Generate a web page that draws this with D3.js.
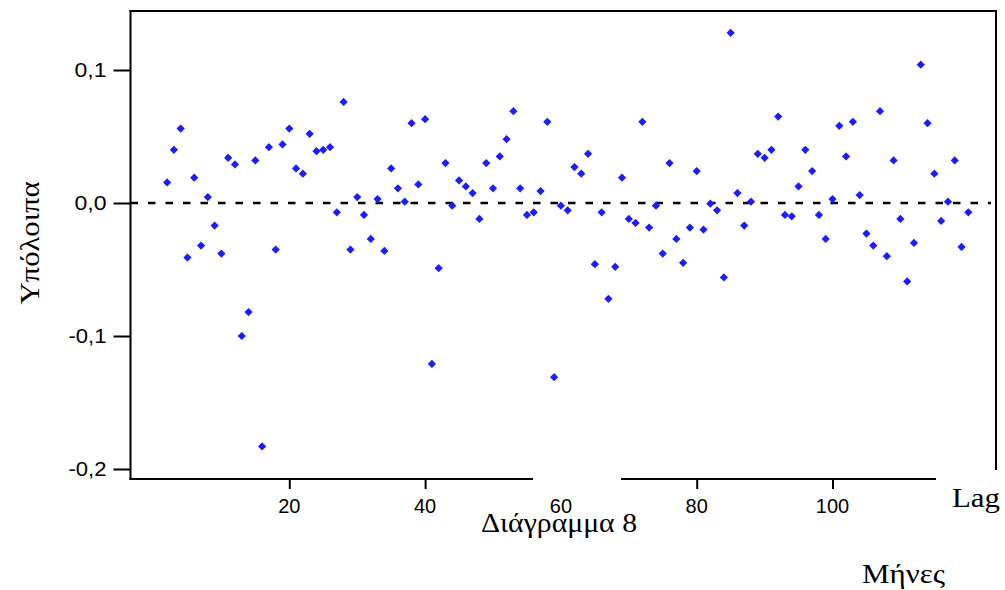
<!DOCTYPE html>
<html>
<head>
<meta charset="utf-8">
<script src="https://cdn.jsdelivr.net/npm/d3@7"></script>
<style>
  html, body { margin: 0; padding: 0; background: #fff; }
  svg { display: block; }
</style>
</head>
<body>
<svg id="chart" width="1005" height="590"></svg>
<script>
// ---- data ----
const lags = [2,3,4,5,6,7,8,9,10,11,12,13,14,15,16,17,18,19,20,21,22,23,24,25,26,27,28,29,30,31,
  32,33,34,35,36,37,38,39,40,41,42,43,44,45,46,47,48,49,50,51,52,53,54,55,56,57,58,59,60,61,
  62,63,64,65,66,67,68,69,70,71,72,73,74,75,76,77,78,79,80,81,82,83,84,85,86,87,88,89,90,91,
  92,93,94,95,96,97,98,99,100,101,102,103,104,105,106,107,108,109,110,111,112,113,114,115,116,117,118,119,120];
const residuals = [
  0.0155, 0.040, 0.056, -0.041, 0.019, -0.032, 0.0045, -0.017, -0.038, 0.034,
  0.029, -0.100, -0.082, 0.032, -0.183, 0.042, -0.035, 0.044, 0.056, 0.026,
  0.022, 0.052, 0.039, 0.040, 0.042, -0.007, 0.076, -0.035, 0.0045, -0.009,
  -0.027, 0.003, -0.036, 0.026, 0.011, 0.001, 0.060, 0.014, 0.063, -0.121,
  -0.049, 0.030, -0.002, 0.017, 0.0125, 0.0075, -0.012, 0.030, 0.011, 0.035,
  0.048, 0.069, 0.011, -0.009, -0.007, 0.009, 0.061, -0.131, -0.002, -0.0055,
  0.027, 0.022, 0.037, -0.046, -0.007, -0.072, -0.048, 0.019, -0.012, -0.015,
  0.061, -0.0185, -0.002, -0.038, 0.030, -0.027, -0.045, -0.0185, 0.024, -0.020,
  -0.0005, -0.0055, -0.056, 0.128, 0.0075, -0.017, 0.001, 0.037, 0.034, 0.040,
  0.065, -0.009, -0.010, 0.0125, 0.040, 0.024, -0.009, -0.027, 0.003, 0.058,
  0.035, 0.061, 0.006, -0.023, -0.032, 0.069, -0.040, 0.032, -0.012, -0.059,
  -0.030, 0.104, 0.060, 0.022, -0.0135, 0.001, 0.032, -0.033, -0.007
];
const xTicks = [20, 40, 60, 80, 100];
const xTickLabels = ["20", "40", "60", "80", "100"];
const yTicks = [-0.2, -0.1, 0.0, 0.1];
const yTickLabels = ["-0,2", "-0,1", "0,0", "0,1"];
const yTitle = "Υπόλοιπα";
const xTitle = "Μήνες";
const lagTitle = "Lag";
const caption = "Διάγραμμα 8";

// ---- scales ----
const svg = d3.select("#chart");
const x = d3.scaleLinear().domain([0, 120]).range([153.5, 968.3]);
const y = d3.scaleLinear().domain([-0.2, 0.1]).range([469, 70]);

const frameLeft = 130.5, frameRight = 996, frameTop = 11, frameBottom = 479;
const ink = "#000";
const sans = "'Liberation Sans', Arial, sans-serif";
const serif = "'Liberation Serif', 'Times New Roman', serif";

// ---- frame ----
const frame = svg.append("g").attr("stroke", ink).attr("stroke-width", 2).attr("fill", "none");
frame.append("line").attr("x1", frameLeft).attr("x2", frameLeft).attr("y1", frameTop - 1).attr("y2", frameBottom + 1);
frame.append("line").attr("x1", frameLeft - 1).attr("x2", frameRight + 1).attr("y1", frameTop).attr("y2", frameTop);
frame.append("line").attr("x1", frameRight).attr("x2", frameRight).attr("y1", frameTop - 1).attr("y2", 470);
frame.append("line").attr("x1", frameLeft - 1).attr("x2", 936).attr("y1", frameBottom).attr("y2", frameBottom);

// ---- zero reference line ----
svg.append("line")
  .attr("x1", frameLeft).attr("x2", 991)
  .attr("y1", y(0)).attr("y2", y(0))
  .attr("stroke", ink).attr("stroke-width", 2.5)
  .attr("stroke-dasharray", "7.5,10");

// ---- axes ----
const yAxis = d3.axisLeft(y).tickValues(yTicks)
  .tickFormat((d, i) => yTickLabels[i]).tickSize(17).tickPadding(7);
const gy = svg.append("g").attr("transform", `translate(${frameLeft},0)`).call(yAxis);
gy.select(".domain").remove();
gy.selectAll(".tick line").attr("stroke", ink).attr("stroke-width", 2);
gy.selectAll(".tick text").attr("font-family", sans)
  .attr("font-size", 20).attr("fill", ink)
  .attr("textLength", (d, i) => yTickLabels[i].length === 4 ? 38 : 32)
  .attr("lengthAdjust", "spacingAndGlyphs");

const xAxis = d3.axisBottom(x).tickValues(xTicks)
  .tickFormat((d, i) => xTickLabels[i]).tickSize(10).tickPadding(8);
const gx = svg.append("g").attr("transform", `translate(0,${frameBottom})`).call(xAxis);
gx.select(".domain").remove();
gx.selectAll(".tick line").attr("stroke", ink).attr("stroke-width", 2);
gx.selectAll(".tick text").remove();

// ---- white boxes (caption box and Lag box cover the axis) ----
svg.append("rect").attr("x", 533).attr("y", 472).attr("width", 88).attr("height", 22).attr("fill", "#fff");
svg.append("rect").attr("x", 936).attr("y", 471).attr("width", 69).attr("height", 45).attr("fill", "#fff");

// x tick labels on top
svg.append("g").selectAll("text").data(xTicks).join("text")
  .attr("x", d => x(d)).attr("y", 513)
  .attr("text-anchor", "middle")
  .attr("font-family", sans)
  .attr("font-size", 20).attr("fill", ink)
  .text((d, i) => xTickLabels[i]);

// ---- points ----
const pts = lags.map((l, i) => ({ lag: l, v: residuals[i] }));
const sym = d3.symbol().type(d3.symbolSquare).size(34);
svg.append("g").selectAll("path").data(pts).join("path")
  .attr("d", sym)
  .attr("transform", d => `translate(${x(d.lag)},${y(d.v)}) rotate(45)`)
  .attr("fill", "#1c1cff");

// ---- titles ----
svg.append("text")
  .attr("transform", "translate(39,243) rotate(-90)")
  .attr("text-anchor", "middle")
  .attr("font-family", serif).attr("font-size", 28).attr("fill", ink)
  .attr("textLength", 123).attr("lengthAdjust", "spacingAndGlyphs")
  .text(yTitle);
svg.append("text").attr("x", 952).attr("y", 507)
  .attr("font-family", serif).attr("font-size", 28).attr("fill", ink)
  .attr("textLength", 48).attr("lengthAdjust", "spacingAndGlyphs")
  .text(lagTitle);
svg.append("text").attr("x", 862).attr("y", 583)
  .attr("font-family", serif).attr("font-size", 28).attr("fill", ink)
  .attr("textLength", 83).attr("lengthAdjust", "spacingAndGlyphs")
  .text(xTitle);
svg.append("text").attr("x", 481).attr("y", 532)
  .attr("font-family", serif).attr("font-size", 28).attr("fill", ink)
  .attr("textLength", 156).attr("lengthAdjust", "spacingAndGlyphs")
  .text(caption);
</script>
</body>
</html>
